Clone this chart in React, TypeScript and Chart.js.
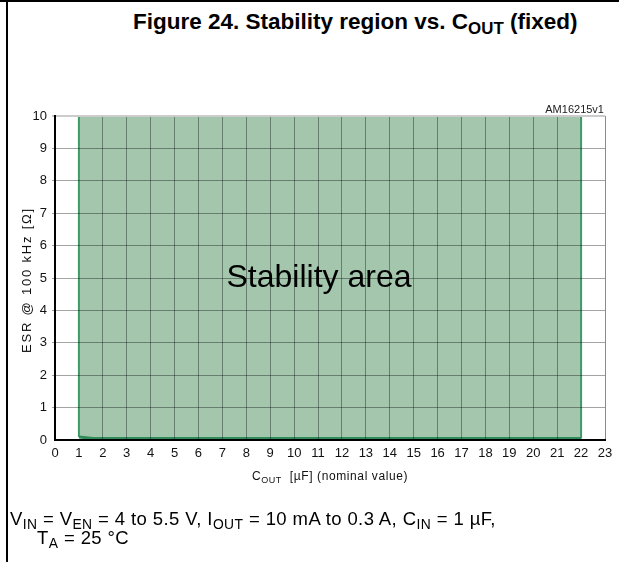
import React, { useEffect, useRef } from "react";
import { Chart, registerables } from "chart.js";

Chart.register(...registerables);

// ---- data ----
const xMin = 0;
const xMax = 23;
const yMin = 0;
const yMax = 10;
const coutStart = 1; // µF, left edge of stability area
const coutEnd = 22; // µF, right edge of stability area
const esrUpper = 10; // Ω, upper edge of stability area
const lowerCout = [1, 1.6, 22]; // µF points along the lower boundary
const lowerEsr = [0.09, 0.05, 0.05]; // Ω lower boundary values

const FONT = "'Liberation Sans', Arial, Helvetica, sans-serif";

export default function App() {
  const ref = useRef<HTMLCanvasElement | null>(null);

  useEffect(() => {
    const canvas = ref.current;
    if (!canvas) return;

    const lower = lowerCout.map((x, i) => ({ x, y: lowerEsr[i] }));
    const polygon = [
      { x: coutStart, y: esrUpper },
      { x: coutEnd, y: esrUpper },
      ...lower.slice().reverse(),
      { x: coutStart, y: esrUpper },
    ];
    const leftEdge = [lower[0], { x: coutStart, y: esrUpper }];
    const rightEdge = [lower[lower.length - 1], { x: coutEnd, y: esrUpper }];

    const textPlugin = {
      id: "areaLabel",
      afterDatasetsDraw(chart: any) {
        const { ctx, scales } = chart;
        const px = scales.x.getPixelForValue((coutStart + coutEnd) / 2);
        const py = scales.y.getPixelForValue(esrUpper / 2);
        ctx.save();
        ctx.fillStyle = "#000";
        ctx.font = `32px ${FONT}`;
        ctx.textAlign = "center";
        ctx.textBaseline = "middle";
        ctx.fillText("Stability area", px - 11, py);
        ctx.restore();
      },
    };

    const chart = new Chart(canvas, {
      type: "line",
      data: {
        datasets: [
          {
            data: polygon,
            order: 10,
            fill: "shape",
            backgroundColor: "#a3c6ad",
            borderWidth: 0,
            borderColor: "rgba(0,0,0,0)",
            pointRadius: 0,
            tension: 0,
          },
          {
            data: leftEdge,
            order: 1,
            fill: false,
            borderColor: "#3f9a6a",
            borderWidth: 2,
            pointRadius: 0,
          },
          {
            data: rightEdge,
            order: 1,
            fill: false,
            borderColor: "#3f9a6a",
            borderWidth: 2,
            pointRadius: 0,
          },
          {
            data: lower,
            order: 0,
            fill: false,
            borderColor: "#2e8b5a",
            borderWidth: 3,
            pointRadius: 0,
          },
        ],
      } as any,
      options: {
        animation: false,
        responsive: false,
        maintainAspectRatio: false,
        parsing: false as any,
        layout: { padding: { left: 0, top: 116, right: 14, bottom: 0 } },
        plugins: {
          legend: { display: false },
          tooltip: { enabled: false },
        },
        scales: {
          x: {
            type: "linear",
            min: xMin,
            max: xMax,
            afterFit(scale: any) {
              scale.height = 122;
            },
            ticks: {
              stepSize: 1,
              autoSkip: false,
              maxRotation: 0,
              color: "#111",
              padding: 6,
              font: { family: FONT, size: 13 },
            },
            grid: {
              z: 1,
              drawTicks: false,
              lineWidth: 1,
              color: (c: any) => {
                const v = c.tick && c.tick.value;
                if (v === coutStart || v === coutEnd) return "rgba(0,0,0,0)";
                if (v === xMax) return "#8a8a8a";
                return "rgba(0,0,0,0.36)";
              },
            },
            border: { z: 2, color: "#000", width: 2 },
          },
          y: {
            type: "linear",
            min: yMin,
            max: yMax,
            afterFit(scale: any) {
              scale.width = 55;
            },
            ticks: {
              stepSize: 1,
              color: "#111",
              padding: 5,
              font: { family: FONT, size: 13 },
            },
            grid: {
              z: 1,
              tickLength: 3,
              lineWidth: (c: any) => (c.tick && c.tick.value === yMax ? 2 : 1),
              color: (c: any) => {
                const v = c.tick && c.tick.value;
                if (v === yMax) return "#cccccc";
                if (v === yMin) return "rgba(0,0,0,0)";
                return "rgba(0,0,0,0.36)";
              },
            },
            border: { z: 2, color: "#000", width: 2 },
          },
        },
      } as any,
      plugins: [textPlugin],
    });

    return () => chart.destroy();
  }, []);

  const sub: React.CSSProperties = { fontSize: "0.75em", verticalAlign: "-0.3em", lineHeight: 0 };

  return (
    <div
      style={{
        position: "fixed",
        left: 0,
        top: 0,
        width: 619,
        height: 562,
        background: "#fff",
        overflow: "hidden",
        fontFamily: FONT,
      }}
    >
      <div style={{ position: "absolute", left: 0, top: 0, width: 619, height: 2, background: "#000" }} />
      <div style={{ position: "absolute", left: 6, top: 0, width: 2, height: 562, background: "#000" }} />
      <div
        style={{
          position: "absolute",
          left: 133,
          top: 7,
          fontSize: 22.5,
          fontWeight: "bold",
          whiteSpace: "nowrap",
          color: "#000",
          lineHeight: "30px",
        }}
      >
        Figure 24. Stability region vs. C<span style={sub}>OUT</span> (fixed)
      </div>
      <canvas ref={ref} width={619} height={562} style={{ position: "absolute", left: 0, top: 0 }} />
      <div
        style={{
          position: "absolute",
          right: 15,
          top: 103,
          fontSize: 11,
          color: "#222",
          whiteSpace: "nowrap",
        }}
      >
        AM16215v1
      </div>
      <div
        style={{
          position: "absolute",
          left: 27,
          top: 280,
          transform: "translate(-50%, -50%) rotate(-90deg)",
          fontSize: 13,
          letterSpacing: 1.8,
          color: "#111",
          whiteSpace: "nowrap",
          lineHeight: "14px",
        }}
      >
        ESR @ 100 kHz [Ω]
      </div>
      <div
        style={{
          position: "absolute",
          left: 55,
          width: 550,
          top: 469,
          textAlign: "center",
          fontSize: 12,
          letterSpacing: 0.6,
          color: "#111",
          whiteSpace: "nowrap",
        }}
      >
        C<span style={sub}>OUT</span>&nbsp; [µF] (nominal value)
      </div>
      <div
        style={{
          position: "absolute",
          left: 10,
          top: 509,
          fontSize: 18.5,
          letterSpacing: 0.4,
          color: "#000",
          whiteSpace: "nowrap",
          lineHeight: "19px",
        }}
      >
        <div>
          V<span style={sub}>IN</span> = V<span style={sub}>EN</span> = 4 to 5.5 V, I<span style={sub}>OUT</span> = 10 mA
          to 0.3 A, C<span style={sub}>IN</span> = 1 µF,
        </div>
        <div style={{ paddingLeft: 27 }}>
          T<span style={sub}>A</span> = 25 °C
        </div>
      </div>
    </div>
  );
}
